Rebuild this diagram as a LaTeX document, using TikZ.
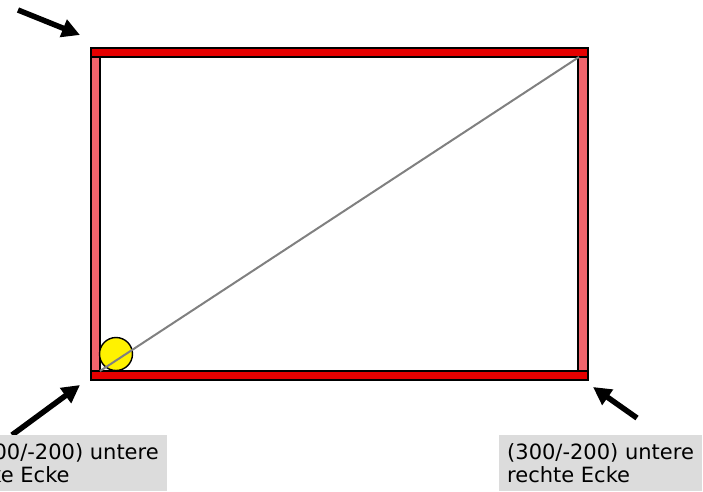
\documentclass[tikz,border=0pt]{standalone}
\usepackage{fontspec}
\setmainfont{DejaVu Sans}
\usetikzlibrary{arrows.meta,positioning}
\definecolor{barred}{HTML}{E60000}
\definecolor{postred}{HTML}{F2646C}
\definecolor{ballyel}{HTML}{FFF200}
\definecolor{labelgray}{HTML}{DCDCDC}
\definecolor{diag}{HTML}{808080}
\tikzset{
  bar/.style={draw=black,line width=1.5pt,fill=barred},
  post/.style={draw=black,line width=1.5pt,fill=postred},
  pointer/.style={-{Triangle[length=18pt,width=18pt]},line width=5.5pt,black},
  cornerlabel/.style={fill=labelgray,align=left,inner xsep=8pt,inner ysep=8pt,
    font=\fontsize{21}{23.5}\selectfont}
}
\begin{document}
\begin{tikzpicture}[x=1pt,y=-1pt]
\useasboundingbox (0,0) rectangle (703,491);
% frame
\draw[post] (91,57) rectangle (100,371);
\draw[post] (578,57) rectangle (588,371);
\draw[bar] (91,48) rectangle (588,57);
\draw[bar] (91,371) rectangle (588,380);
\coordinate (ll) at (100,371);
\coordinate (ur) at (579,57);
% ball and diagonal
\node[circle,draw=black,line width=1.4pt,fill=ballyel,minimum size=33pt,inner sep=0pt] (ball) at (116,354) {};
\draw[diag,line width=2pt] (ll) -- (ur);
% pointers
\coordinate (tl tail) at (18,10);
\coordinate (tl tip) at (80,35);
\coordinate (bl tail) at (12,435);
\coordinate (bl tip) at (80,385);
\coordinate (br tail) at (637,418);
\coordinate (br tip) at (593,387);
\foreach \a in {tl,bl,br}
  \draw[pointer] (\a\space tail) -- (\a\space tip);
% labels
\node[cornerlabel,anchor=north east] (left label) at (167,435) {(-300/-200) untere\\linke Ecke};
\node[cornerlabel,anchor=north west] (right label) at (499,435) {(300/-200) untere\\rechte Ecke};
\end{tikzpicture}
\end{document}
